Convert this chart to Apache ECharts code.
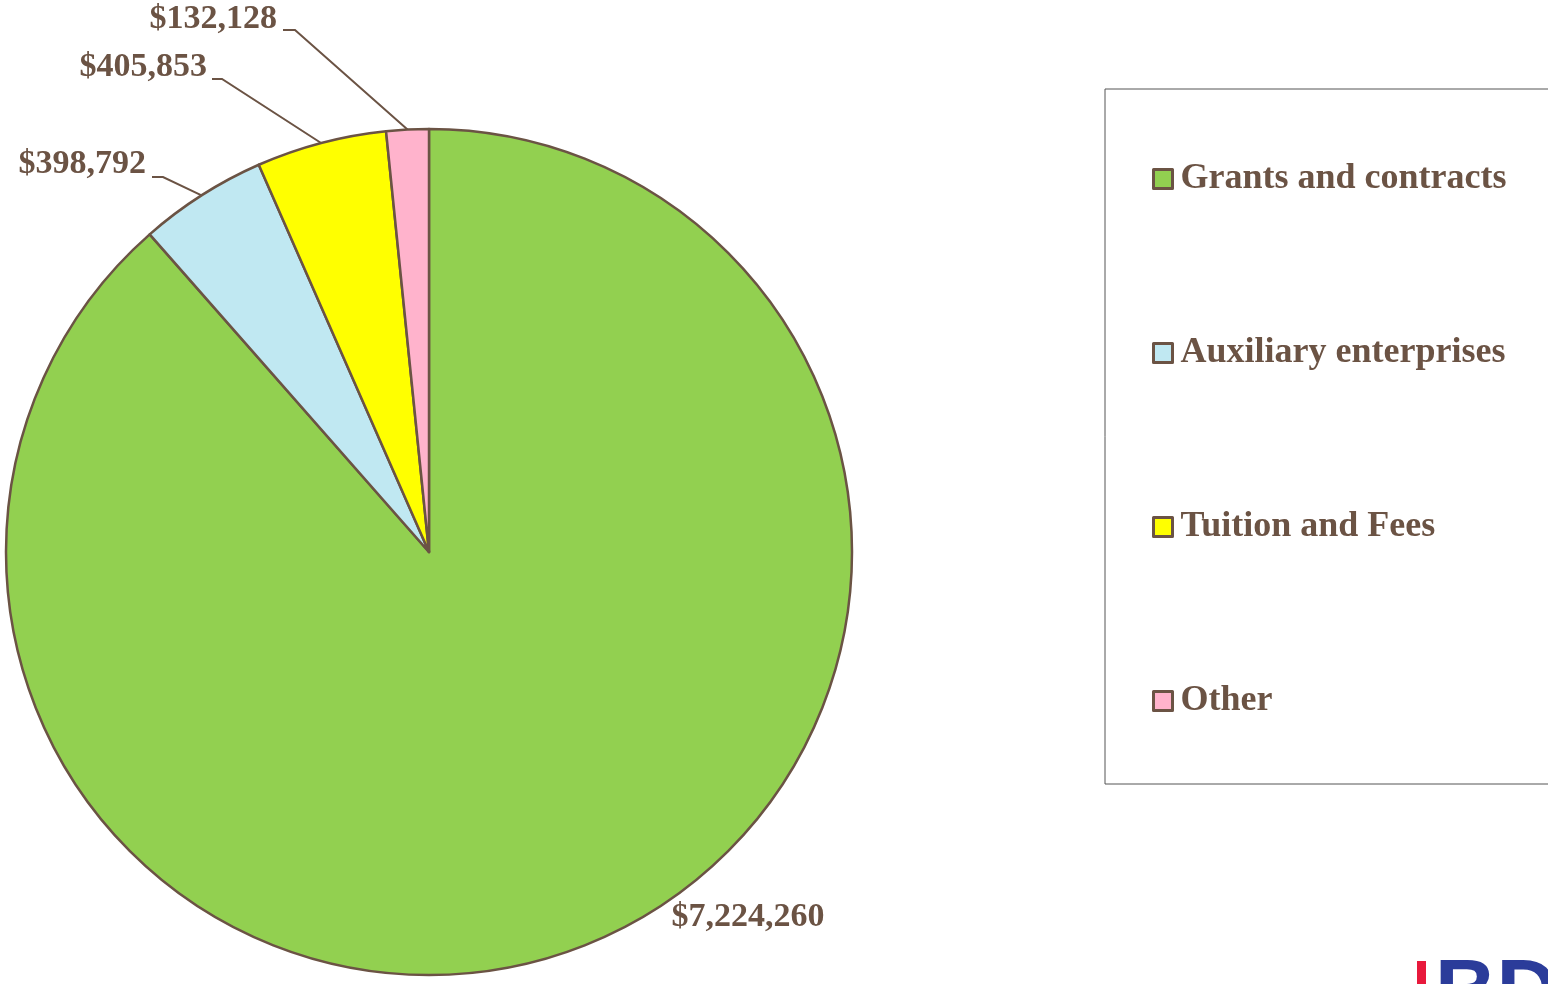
<!DOCTYPE html>
<html>
<head>
<meta charset="utf-8">
<script src="https://cdn.jsdelivr.net/npm/echarts@6/dist/echarts.min.js"></script>
<style>
  html, body { margin: 0; padding: 0; background: #fff; }
  #main { width: 1548px; height: 984px; }
</style>
</head>
<body>
<div id="main"></div>
<script>
// data
const categories = ['Grants and contracts', 'Auxiliary enterprises', 'Tuition and Fees', 'Other'];
const amounts = [7224260, 398792, 405853, 132128];
const sliceColors = ['#92D050', '#C0E8F2', '#FFFF00', '#FFB3CC'];

const brown = '#6B5344';
const serif = '"Liberation Serif", "Times New Roman", serif';

// where each value label sits (Excel-style placement)
const labelSpots = [
  { x: 748, y: 917, align: 'center' },
  { x: 146, y: 164, align: 'right', bend: [163, 177], end: [152, 177] },
  { x: 207, y: 67, align: 'right', bend: [222, 79], end: [212, 79] },
  { x: 277, y: 19, align: 'right', bend: [295, 30], end: [283, 30] }
];

function money(v) {
  return '$' + v.toLocaleString('en-US');
}

const chart = echarts.init(document.getElementById('main'));

const option = {
  animation: false,
  legend: {
    orient: 'vertical',
    left: 1105,
    top: 89,
    padding: [72, 200, 65, 47],
    borderColor: '#555555',
    borderWidth: 1,
    itemGap: 138,
    itemWidth: 19,
    itemHeight: 19,
    icon: 'rect',
    selectedMode: false,
    data: categories,
    itemStyle: { borderColor: brown, borderWidth: 3 },
    textStyle: {
      fontFamily: serif,
      fontWeight: 'bold',
      fontSize: 36,
      lineHeight: 36,
      color: brown,
      padding: [0, 0, 0, 3]
    }
  },
  series: [{
    type: 'pie',
    center: [429, 552],
    radius: 423,
    startAngle: 90,
    clockwise: true,
    silent: true,
    avoidLabelOverlap: false,
    itemStyle: { borderColor: brown, borderWidth: 2.5 },
    label: {
      show: true,
      position: 'outside',
      formatter: p => money(p.value),
      fontFamily: serif,
      fontWeight: 'bold',
      fontSize: 34,
      color: brown
    },
    labelLine: {
      show: true,
      lineStyle: { color: brown, width: 2 }
    },
    labelLayout: function (p) {
      const spot = labelSpots[p.dataIndex];
      const out = { x: spot.x, y: spot.y, align: spot.align, verticalAlign: 'middle' };
      if (spot.bend && p.labelLinePoints) {
        out.labelLinePoints = [p.labelLinePoints[0], spot.bend, spot.end];
      }
      return out;
    },
    data: categories.map((name, i) => ({
      name: name,
      value: amounts[i],
      itemStyle: { color: sliceColors[i] },
      labelLine: { show: i !== 0 }
    }))
  }],
  graphic: [
    { type: 'rect', shape: { x: 1417, y: 961, width: 9, height: 30 }, style: { fill: '#E8193C' } },
    {
      type: 'text', left: 1435, top: 953,
      style: { text: 'BD', fill: '#2B3C9A', font: 'bold 85px "Liberation Sans", Arial, sans-serif' }
    }
  ]
};

chart.setOption(option);
</script>
</body>
</html>
